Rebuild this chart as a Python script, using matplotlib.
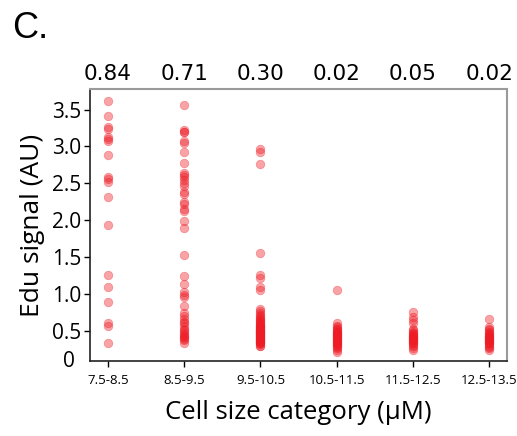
import numpy as np
import matplotlib.pyplot as plt

# catégories de taille et p-values
categories = ['7.5-8.5', '8.5-9.5', '9.5-10.5', '10.5-11.5', '11.5-12.5', '12.5-13.5']
pvalues = ['0.84', '0.71', '0.30', '0.02', '0.05', '0.02']

# signal Edu par catégorie
edu_75 = [3.61, 3.41, 3.27, 3.24, 3.13, 3.10, 3.08, 2.89, 2.59, 2.56, 2.52, 2.32,
          1.94, 1.25, 1.09, 0.89, 0.60, 0.56, 0.34]
edu_85 = [3.56, 3.22, 3.20, 3.19, 3.07, 3.05, 2.93, 2.78, 2.64, 2.61, 2.58, 2.54,
          2.51, 2.46, 2.38, 2.36, 2.24, 2.22, 2.15, 2.13, 1.99, 1.89, 1.53, 1.24,
          1.13, 1.02, 0.99, 0.96, 0.83, 0.74, 0.70, 0.66, 0.62, 0.60, 0.57, 0.53,
          0.51, 0.49, 0.46, 0.44, 0.42, 0.41, 0.39, 0.37, 0.34]
edu_95 = [2.97, 2.93, 2.76, 1.55, 1.25, 1.21, 1.09, 1.05, 0.80, 0.77, 0.74, 0.72,
          0.70, 0.68, 0.66, 0.65, 0.63, 0.62, 0.60, 0.59, 0.58, 0.57, 0.56, 0.55,
          0.54, 0.53, 0.52, 0.51, 0.50, 0.49, 0.48, 0.47, 0.46, 0.45, 0.44, 0.43,
          0.42, 0.41, 0.40, 0.39, 0.38, 0.37, 0.36, 0.35, 0.34, 0.33, 0.32, 0.30,
          0.29, 0.55, 0.50, 0.45, 0.40, 0.35, 0.48, 0.43, 0.38]
edu_105 = [1.05, 0.60, 0.57, 0.55, 0.53, 0.52, 0.50, 0.49, 0.48, 0.47, 0.46, 0.45,
           0.44, 0.43, 0.42, 0.41, 0.40, 0.39, 0.38, 0.37, 0.36, 0.35, 0.34, 0.33,
           0.32, 0.31, 0.30, 0.28, 0.26, 0.24, 0.21]
edu_115 = [0.76, 0.69, 0.65, 0.60, 0.53, 0.51, 0.49, 0.47, 0.45, 0.44, 0.43, 0.42,
           0.41, 0.40, 0.39, 0.38, 0.37, 0.36, 0.35, 0.34, 0.33, 0.31, 0.29, 0.27,
           0.24]
edu_125 = [0.66, 0.55, 0.53, 0.51, 0.49, 0.47, 0.45, 0.44, 0.43, 0.42, 0.41, 0.40,
           0.39, 0.38, 0.37, 0.36, 0.35, 0.34, 0.33, 0.32, 0.30, 0.28, 0.26, 0.24]

edu = [edu_75, edu_85, edu_95, edu_105, edu_115, edu_125]

police = 'Open Sans'
rouge = '#ee1c25'

fig = plt.figure(figsize=(5.17, 4.36), dpi=100)
ax = fig.add_axes([0.174, 0.172, 0.807, 0.624])

for i, vals in enumerate(edu):
    ax.scatter(np.full(len(vals), i), vals, s=38, color=rouge, alpha=0.4,
               edgecolors=rouge, linewidths=0.5, zorder=3)

ax.set_xlim(-0.236, 5.236)
ax.set_ylim(0.09, 3.78)

ax.set_xticks(range(len(categories)))
ax.set_xticklabels(categories, fontsize=9.5, family=police)
ax.set_yticks([0.5, 1.0, 1.5, 2.0, 2.5, 3.0, 3.5])
ax.set_yticklabels(['0.5', '1.0', '1.5', '2.0', '2.5', '3.0', '3.5'], fontsize=15, family=police)
ax.text(-0.035, 0.0, '0', transform=ax.transAxes, ha='right', va='center',
        fontsize=15, family=police)
ax.tick_params(axis='y', length=4, width=1, pad=2)
ax.tick_params(axis='x', length=4, width=1, pad=5)

for s in ['left', 'bottom']:
    ax.spines[s].set_color('#222222')
    ax.spines[s].set_linewidth(1.2)
for s in ['top', 'right']:
    ax.spines[s].set_color('#9a9a9a')
    ax.spines[s].set_linewidth(1.5)

ax.set_ylabel('Edu signal (AU)', fontsize=19, family=police, labelpad=5)
ax.set_xlabel('Cell size category (\u03bcM)', fontsize=18.5, family=police, labelpad=10)

# p-values au-dessus de chaque catégorie
for i, p in enumerate(pvalues):
    ax.text(i, 1.02, p, transform=ax.get_xaxis_transform(), ha='center',
            va='bottom', fontsize=15.5)

fig.text(0.023, 0.913, 'C.', fontsize=26, family='Liberation Sans', va='baseline', ha='left')

fig.savefig('out.png', dpi=100)
